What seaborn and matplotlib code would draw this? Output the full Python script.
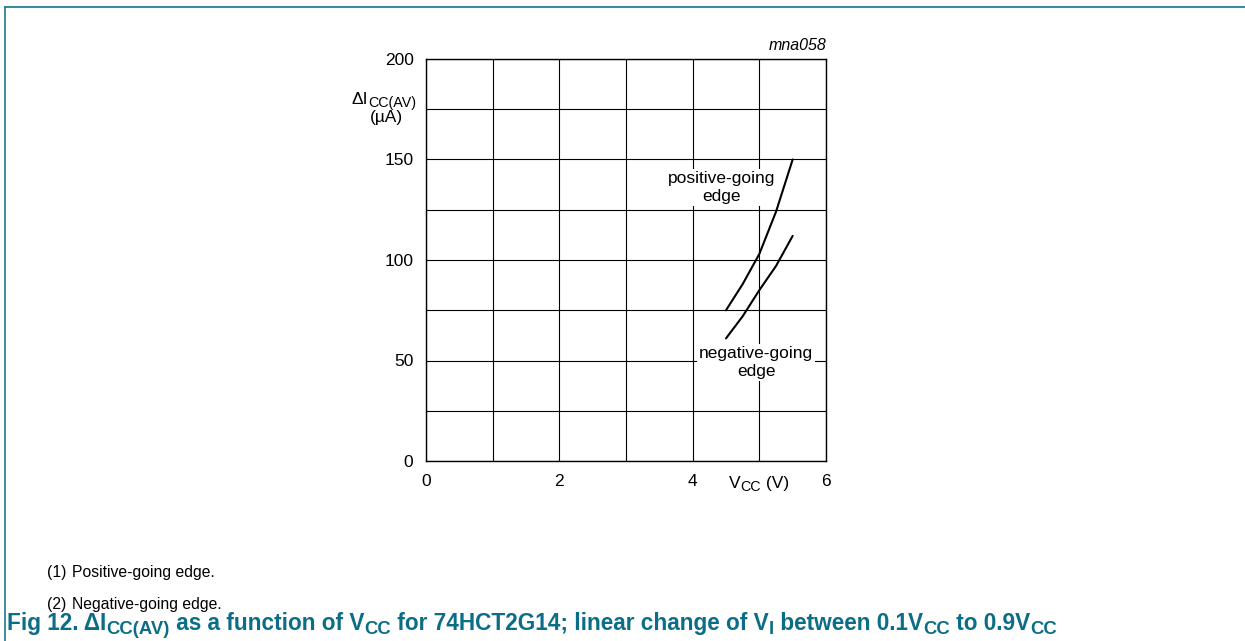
import pandas as pd
import seaborn as sns
import matplotlib.pyplot as plt
from matplotlib.lines import Line2D

# Значения
vcc_pos = [4.5, 4.75, 5.0, 5.25, 5.5]
icc_pos = [75, 88, 103, 124, 150]
vcc_neg = [4.5, 4.75, 5.0, 5.25, 5.5]
icc_neg = [61, 72, 85, 97, 112]
edge_names = ['positive-going', 'negative-going']
x_ticks = [0, 2, 4, 6]
y_ticks = [0, 50, 100, 150, 200]

df = pd.concat([
    pd.DataFrame({'vcc': vcc_pos, 'icc': icc_pos, 'edge': edge_names[0]}),
    pd.DataFrame({'vcc': vcc_neg, 'icc': icc_neg, 'edge': edge_names[1]}),
])

sns.set_style('white')
plt.rcParams['font.family'] = ['Liberation Sans', 'DejaVu Sans']
plt.rcParams['text.color'] = 'black'

W, H = 1245, 641
teal = '#0B6E86'
fig = plt.figure(figsize=(W / 100, H / 100), dpi=100)
ax = fig.add_axes([426 / W, 1 - 461 / H, 400 / W, 402 / H])

sns.lineplot(data=df, x='vcc', y='icc', hue='edge', palette=['black', 'black'],
             linewidth=1.5, legend=False, ax=ax)

ax.set_xlim(0, 6)
ax.set_ylim(0, 200)
ax.set_xticks(x_ticks)
ax.set_yticks(y_ticks)
ax.set_xticks(range(0, 7), minor=True)
ax.set_yticks(range(0, 201, 25), minor=True)
ax.grid(True, which='both', color='black', linewidth=0.8)
ax.tick_params(which='both', length=0, labelsize=12.5, labelcolor='black')
ax.tick_params(axis='x', pad=9)
ax.tick_params(axis='y', pad=9)
for s in ax.spines.values():
    s.set_color('black')
    s.set_linewidth(1.0)
ax.set_xlabel('')
ax.set_ylabel('')

bbox = dict(facecolor='white', edgecolor='none', pad=1.5)
ax.text(4.43, 136, 'positive-going\nedge', ha='center', va='center',
        fontsize=12.5, linespacing=1.25, bbox=bbox)
ax.text(4.95, 49, 'negative-going\nedge', ha='center', va='center',
        fontsize=12.5, linespacing=1.25, bbox=bbox)
ax.text(6.0, 203, 'mna058', ha='right', va='bottom', fontsize=11.5, style='italic')

renderer = fig.canvas.get_renderer()


def rich(x_px, y_px, parts, size, ha='left', sub_scale=0.82, **kw):
    # текст с подстрочными индексами, кусками
    items = []
    total = 0
    for s, sub in parts:
        fs = size * sub_scale if sub else size
        t = fig.text(0, 0, s, fontsize=fs, va='baseline', ha='left', **kw)
        w = t.get_window_extent(renderer).width
        items.append((t, w, sub))
        total += w
    x = x_px - (total / 2 if ha == 'center' else 0)
    for t, w, sub in items:
        dy = size * 0.17 * 100 / 72 if sub else 0
        t.set_position((x / W, 1 - (y_px + dy) / H))
        x += w


rich(384, 104, [('ΔI', False), ('CC(AV)', True)], 12.5, ha='center')
rich(386, 122, [('(µA)', False)], 12.5, ha='center')
rich(759, 488, [('V', False), ('CC', True), (' (V)', False)], 12.5, ha='center')

# подписи под графиком
fig.text(47 / W, 1 - 572 / H, '(1)', fontsize=11.3, va='center')
fig.text(72 / W, 1 - 572 / H, 'Positive-going edge.', fontsize=11.3, va='center')
fig.text(47 / W, 1 - 604 / H, '(2)', fontsize=11.3, va='center')
fig.text(72 / W, 1 - 604 / H, 'Negative-going edge.', fontsize=11.3, va='center')

caption = [('Fig 12. ΔI', False), ('CC(AV)', True), (' as a function of V', False),
           ('CC', True), (' for 74HCT2G14; linear change of V', False), ('I', True),
           (' between 0.1V', False), ('CC', True), (' to 0.9V', False), ('CC', True)]
rich(7, 630, caption, 16.3, fontweight='bold', color=teal)

# рамка
fig.add_artist(Line2D([5 / W, 1], [1 - 7 / H, 1 - 7 / H],
                      transform=fig.transFigure, color='#3A8C9C', linewidth=1.5))
fig.add_artist(Line2D([5 / W, 5 / W], [0, 1 - 7 / H],
                      transform=fig.transFigure, color='#1F7A8E', linewidth=1.2))

fig.savefig('out.png', dpi=100)
